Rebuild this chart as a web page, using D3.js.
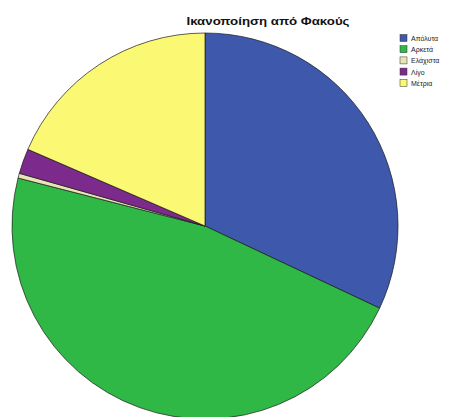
<!DOCTYPE html>
<html>
<head>
<meta charset="utf-8">
<script src="https://cdn.jsdelivr.net/npm/d3@7"></script>
<style>
  html, body { margin: 0; padding: 0; background: #fff; }
  svg { display: block; }
</style>
</head>
<body>
<svg id="chart" width="449" height="417"></svg>
<script>
// Satisfaction categories and their shares (%)
const categories = ["Απόλυτα", "Αρκετά", "Ελάχιστα", "Λίγο", "Μέτρια"];
const shares = [32.0, 47.0, 0.4, 2.1, 18.5];
const colors = ["#3e58ac", "#2fb846", "#e8e4b4", "#7c2a8c", "#fbf874"];
const title = "Ικανοποίηση από Φακούς";

const svg = d3.select("#chart");
const cx = 205, cy = 226, radius = 193;

const data = categories.map((c, i) => ({ category: c, value: shares[i], color: colors[i] }));

const pie = d3.pie().value(d => d.value).sort(null).startAngle(0).endAngle(2 * Math.PI);
const arc = d3.arc().innerRadius(0).outerRadius(radius);

const g = svg.append("g").attr("transform", `translate(${cx},${cy})`);
g.selectAll("path")
  .data(pie(data))
  .join("path")
  .attr("d", arc)
  .attr("fill", d => d.data.color)
  .attr("stroke", "#1a1a1a")
  .attr("stroke-width", 0.7)
  .attr("stroke-linejoin", "round");

// Title
svg.append("text")
  .attr("x", 268)
  .attr("y", 25)
  .attr("text-anchor", "middle")
  .attr("font-family", "Liberation Sans, Arial, sans-serif")
  .attr("font-size", 11)
  .attr("font-weight", "bold")
  .attr("fill", "#111")
  .attr("textLength", 163)
  .attr("lengthAdjust", "spacingAndGlyphs")
  .text(title);

// Legend
const legend = svg.append("g").attr("transform", "translate(400,34.5)");
const rows = legend.selectAll("g")
  .data(data)
  .join("g")
  .attr("transform", (d, i) => `translate(0,${i * 11.2})`);
rows.append("rect")
  .attr("width", 7)
  .attr("height", 7)
  .attr("fill", d => d.color)
  .attr("stroke", "#333")
  .attr("stroke-width", 0.5);
rows.append("text")
  .attr("x", 11)
  .attr("y", 6.5)
  .attr("font-family", "Liberation Sans, Arial, sans-serif")
  .attr("font-size", 7)
  .attr("fill", "#222")
  .text(d => d.category);
</script>
</body>
</html>
